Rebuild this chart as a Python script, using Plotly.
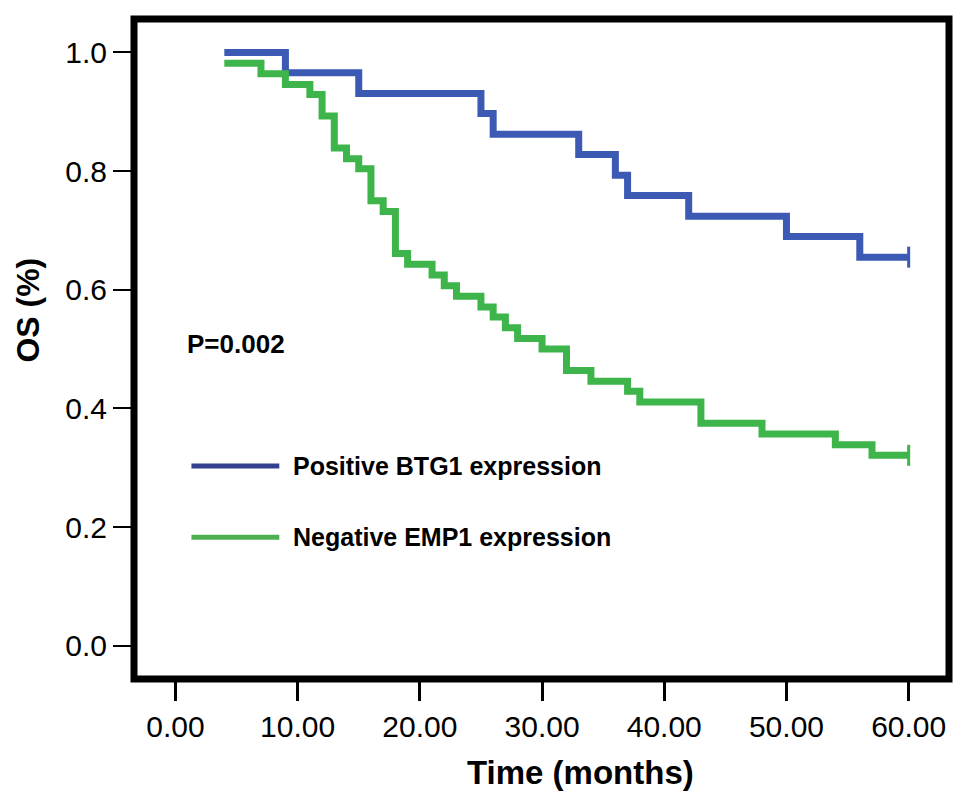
import plotly.graph_objects as go

# Kaplan-Meier data
blue_times = [4, 9, 15, 25, 26, 33, 36, 37, 42, 50, 56, 60]
blue_surv = [1.0, 0.966, 0.931, 0.897, 0.862, 0.828, 0.793, 0.759, 0.724, 0.690, 0.655, 0.655]

green_times = [4, 7, 9, 11, 12, 13, 14, 15, 16, 17, 18, 19, 21, 22, 23, 25, 26, 27, 28,
               30, 32, 34, 37, 38, 43, 48, 54, 57, 60]
green_surv = [0.982, 0.964, 0.946, 0.929, 0.893, 0.839, 0.821, 0.804, 0.750, 0.732, 0.661,
              0.643, 0.625, 0.607, 0.589, 0.571, 0.554, 0.536, 0.518, 0.500, 0.464, 0.446,
              0.429, 0.411, 0.375, 0.357, 0.339, 0.321, 0.321]

blue_label = "Positive BTG1 expression"
green_label = "Negative EMP1 expression"
x_ticks = [0, 10, 20, 30, 40, 50, 60]
y_ticks = [0.0, 0.2, 0.4, 0.6, 0.8, 1.0]

BLUE = "#3C5AB4"
GREEN = "#3DB54A"
LEG_BLUE = "#33408F"
LEG_GREEN = "#4CB050"
FONT = "Liberation Sans, Arial, sans-serif"

fig = go.Figure()
fig.add_trace(go.Scatter(x=blue_times, y=blue_surv, mode="lines", line=dict(color=BLUE, width=7, shape="hv"),
                         showlegend=False))
fig.add_trace(go.Scatter(x=green_times, y=green_surv, mode="lines", line=dict(color=GREEN, width=7, shape="hv"),
                         showlegend=False))
# censor marks at end
fig.add_trace(go.Scatter(x=[blue_times[-1]], y=[blue_surv[-1]], mode="markers",
                         marker=dict(symbol="line-ns", size=15, line=dict(color=BLUE, width=3)), showlegend=False))
fig.add_trace(go.Scatter(x=[green_times[-1]], y=[green_surv[-1]], mode="markers",
                         marker=dict(symbol="line-ns", size=15, line=dict(color=GREEN, width=3)), showlegend=False))

# frame
fig.add_shape(type="rect", xref="paper", yref="paper", x0=0, x1=1, y0=0, y1=1,
              line=dict(color="black", width=7), layer="above")

# legend (manual)
fig.add_shape(type="line", xref="x", yref="y", x0=1.31, x1=8.5, y0=0.303, y1=0.303,
              line=dict(color=LEG_BLUE, width=5))
fig.add_shape(type="line", xref="x", yref="y", x0=1.31, x1=8.5, y0=0.183, y1=0.183,
              line=dict(color=LEG_GREEN, width=5))
fig.add_annotation(x=9.45, y=0.303, xref="x", yref="y", text=blue_label, showarrow=False,
                   xanchor="left", yanchor="middle", font=dict(family=FONT, size=25, color="black", weight="bold"))
fig.add_annotation(x=9.45, y=0.183, xref="x", yref="y", text=green_label, showarrow=False,
                   xanchor="left", yanchor="middle", font=dict(family=FONT, size=25, color="black", weight="bold"))
fig.add_annotation(x=0.82, y=0.508, xref="x", yref="y", text="P=0.002", showarrow=False,
                   xanchor="left", yanchor="middle", font=dict(family=FONT, size=26, color="black", weight="bold"))

# axis titles
fig.add_annotation(x=-0.1306, y=0.559, xref="paper", yref="paper", text="OS (%)", showarrow=False,
                   textangle=-90, xanchor="center", yanchor="middle",
                   font=dict(family=FONT, size=32, color="black", weight="bold"))
fig.add_annotation(x=0.5475, y=-0.1423, xref="paper", yref="paper", text="Time (months)", showarrow=False,
                   xanchor="center", yanchor="middle",
                   font=dict(family=FONT, size=33, color="black", weight="bold"))

fig.update_xaxes(range=[-3.39, 63.3], tickvals=x_ticks, tickformat=".2f", showgrid=False, zeroline=False,
                 showline=False, ticks="outside", ticklen=21, tickwidth=3, tickcolor="black",
                 tickfont=dict(family=FONT, size=30, color="black"))
fig.update_yaxes(range=[-0.056, 1.0564], tickvals=y_ticks, tickformat=".1f", showgrid=False, zeroline=False,
                 showline=False, ticks="outside", ticklen=20, tickwidth=2, tickcolor="black",
                 tickfont=dict(family=FONT, size=30, color="black"))

# page body has an 8px margin: compensate so the plot area lands where the reference has it
fig.update_layout(width=961, height=795, margin=dict(l=125.5, r=20, t=10.5, b=124, autoexpand=False),
                  plot_bgcolor="white", paper_bgcolor="white", showlegend=False)

fig.write_html("out.html")
